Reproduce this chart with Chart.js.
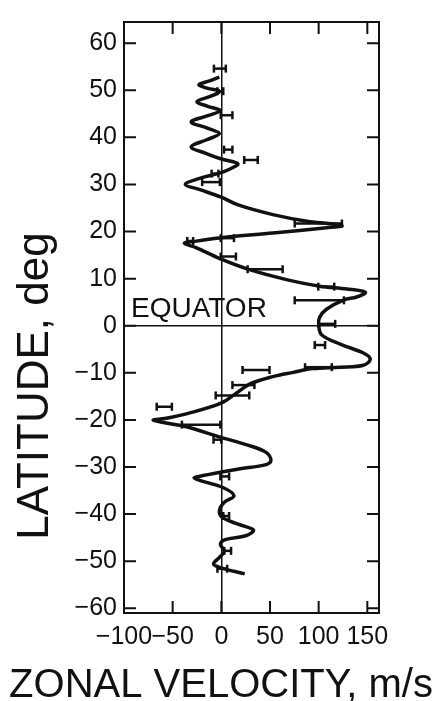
<!DOCTYPE html>
<html>
<head>
<meta charset="utf-8">
<script src="https://cdn.jsdelivr.net/npm/chart.js@4.4.1/dist/chart.umd.min.js"></script>
<style>
  body { margin: 0; background: #fff; }
  #wrap { width: 438px; height: 701px; position: relative; }
</style>
</head>
<body>
<div id="wrap"><canvas id="windChart"></canvas></div>
<script>
// profile curve (latitude in deg, velocity in m/s)
const curveLat = [52.8, 52.0, 51.2, 50.4, 49.8, 48.8, 47.6, 46.6, 45.7, 44.6, 43.3, 42.0, 40.8, 39.5, 38.0, 36.6,
  35.4, 34.4, 33.4, 32.4, 31.2, 30.0, 28.9, 27.3, 25.6, 23.6, 22.2, 21.6, 21.2, 20.8, 19.7, 18.7, 17.9, 17.5, 16.6,
  14.3, 11.9, 9.8, 8.4, 7.8, 7.1, 6.1, 5.5, 3.5, 1.8, 0.2, -1.9, -3.9, -5.8, -7.1, -8.4, -8.8, -9.1, -9.9, -10.8,
  -12.3, -14.4, -16.5, -18.6, -19.7, -20.0, -20.5, -21.4, -23.6, -25.4, -26.9, -28.6, -29.5, -30.4, -31.1, -32.0,
  -32.3, -32.8, -34.3, -36.1, -37.5, -39.3, -40.7, -42.2, -43.4, -44.6, -45.4, -46.4, -47.9, -49.2, -50.6, -51.3, -52.7];
const curveU = [-2, -12, -23, -14, -2, -10, -25, -14, -1, -14, -31, -15, -2, -15, -31, -16,
  0, 17, 10, -2, -24, -37, -22, 0, 18, 53, 88, 115, 124, 108, 53, 0, -28, -38, -26,
  -2, 29, 67, 101, 129, 148, 139, 126, 108, 101, 100, 103, 122, 146, 153, 146, 122, 94, 74, 53,
  30, 15, -1, -34, -58, -70, -61, -37, -2, 28, 46, 51, 46, 18, -1, -23,
  -28, -23, 1, 13, 3, -2, 1, 18, 33, 25, 4, -1, 3, -2, -8, -2, 24];

// measured velocities with error ranges
const barLat = [54.6, 49.8, 44.7, 37.4, 35.2, 32.3, 30.5, 21.7, 18.6, 18.0, 14.7, 12.0, 8.3, 5.4, 0.4,
  -4.1, -8.8, -9.4, -12.6, -14.8, -17.2, -21.0, -24.2, -32.0, -40.4, -47.8, -51.6];
const barLo = [-7.6, -4, -0.6, 2.8, 23.5, -10, -19.7, 75.4, -0.6, -35, -0.6, 27, 99.6, 75.4, 100,
  96, 86, 21.8, 11.4, -5.8, -66.4, -40.5, -8, -1, 2, 3, -4];
const barHi = [4.6, 2, 11.4, 11.4, 37.4, -3, -1.5, 123.9, 13, -29, 15, 63, 116, 126, 117,
  106.6, 113.5, 49.5, 34, 28.7, -50.8, -1, 0, 8, 8, 10, 6];

const xTicks = [-100, -50, 0, 50, 100, 150];
const yTicks = [60, 50, 40, 30, 20, 10, 0, -10, -20, -30, -40, -50, -60];

const ink = '#111';
const fontFamily = '"Liberation Sans", Arial, Helvetica, sans-serif';

function signed(v) {
    return v < 0 ? '\u2212' + Math.abs(v) : String(v);
}

const datasets = [{
    data: curveLat.map((lat, i) => ({ x: curveU[i], y: lat })),
    showLine: true,
    borderColor: ink,
    borderWidth: 3.5,
    pointRadius: 0,
    tension: 0.35
}];

barLat.forEach((lat, i) => {
    datasets.push({
        data: [{ x: barLo[i], y: lat }, { x: barHi[i], y: lat }],
        showLine: true,
        borderColor: ink,
        borderWidth: 2.5,
        tension: 0,
        pointStyle: 'line',
        rotation: 90,
        pointRadius: 4,
        pointBorderWidth: 2.5,
        pointBorderColor: ink
    });
});

// frame, inward tick marks, equator note and axis titles
const decorations = {
    id: 'decorations',
    afterDatasetsDraw(chart) {
        const { ctx, chartArea: a, scales: { x, y } } = chart;
        const len = 12;
        ctx.save();
        ctx.strokeStyle = ink;
        ctx.lineWidth = 2;
        ctx.strokeRect(a.left, a.top, a.right - a.left, a.bottom - a.top);
        ctx.beginPath();
        xTicks.forEach(v => {
            const px = x.getPixelForValue(v);
            if (px <= a.left + 2 || px >= a.right - 2) return;
            ctx.moveTo(px, a.bottom); ctx.lineTo(px, a.bottom - len);
            ctx.moveTo(px, a.top); ctx.lineTo(px, a.top + len);
        });
        yTicks.forEach(v => {
            const py = y.getPixelForValue(v);
            if (py <= a.top + 2 || py >= a.bottom - 2) return;
            ctx.moveTo(a.left, py); ctx.lineTo(a.left + len, py);
            ctx.moveTo(a.right, py); ctx.lineTo(a.right - len, py);
        });
        ctx.stroke();

        ctx.fillStyle = ink;
        ctx.textBaseline = 'alphabetic';
        ctx.textAlign = 'left';
        ctx.font = '28px ' + fontFamily;
        ctx.fillText('EQUATOR', x.getPixelForValue(-100) + 7, y.getPixelForValue(0) - 9);

        ctx.textAlign = 'center';
        ctx.font = '40px ' + fontFamily;
        ctx.fillText('ZONAL VELOCITY, m/s', 221, 697);

        ctx.translate(48, 386);
        ctx.rotate(-Math.PI / 2);
        ctx.font = '44px ' + fontFamily;
        ctx.fillText('LATITUDE, deg', 0, 0);
        ctx.restore();
    }
};

const ctx = document.getElementById('windChart').getContext('2d');
const windChart = new Chart(ctx, {
    type: 'scatter',
    data: { datasets: datasets },
    options: {
        responsive: true,
        maintainAspectRatio: false,
        animation: false,
        layout: { padding: { top: 12, right: 59, left: 0, bottom: 0 } },
        plugins: { legend: { display: false }, tooltip: { enabled: false } },
        scales: {
            x: {
                type: 'linear',
                min: -100,
                max: 162,
                afterBuildTicks: scale => { scale.ticks = xTicks.map(v => ({ value: v })); },
                afterFit: scale => { scale.height = 88; },
                border: { display: false },
                grid: {
                    drawTicks: false,
                    lineWidth: 1.5,
                    color: c => (c.tick && c.tick.value === 0 ? ink : 'rgba(0,0,0,0)')
                },
                ticks: {
                    color: ink,
                    padding: 9,
                    maxRotation: 0,
                    autoSkip: false,
                    font: { family: fontFamily, size: 25 },
                    callback: v => signed(v)
                }
            },
            y: {
                type: 'linear',
                min: -61,
                max: 64.5,
                afterBuildTicks: scale => { scale.ticks = yTicks.map(v => ({ value: v })); },
                afterFit: scale => { scale.width = 124; },
                border: { display: false },
                grid: {
                    drawTicks: false,
                    lineWidth: 1.5,
                    color: c => (c.tick && c.tick.value === 0 ? ink : 'rgba(0,0,0,0)')
                },
                ticks: {
                    color: ink,
                    padding: 7,
                    autoSkip: false,
                    font: { family: fontFamily, size: 25 },
                    callback: v => signed(v)
                }
            }
        }
    },
    plugins: [decorations]
});
</script>
</body>
</html>
